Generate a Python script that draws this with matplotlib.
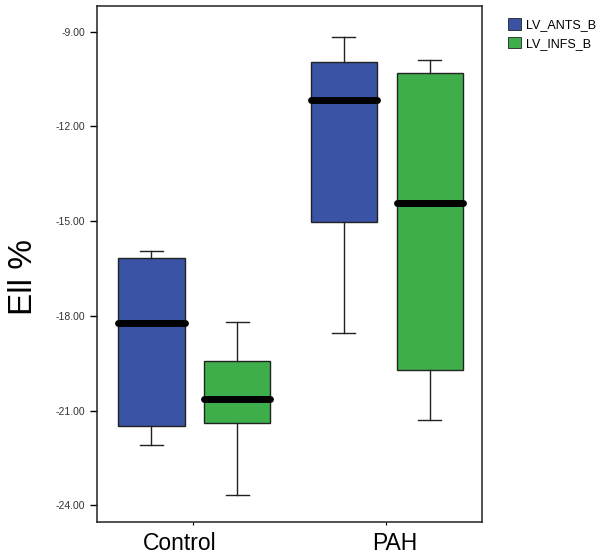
import matplotlib
matplotlib.use('Agg')
import matplotlib.pyplot as plt
from matplotlib.patches import Patch

plt.rcParams['font.family'] = ['Liberation Sans', 'DejaVu Sans']

# box stats (whisker low, Q1, median, Q3, whisker high)
groups = ['Control', 'PAH']
series = ['LV_ANTS_B', 'LV_INFS_B']
colors = ['#3A53A4', '#3DAE49']

ants_lo = [-22.09, -18.54]
ants_q1 = [-21.49, -15.02]
ants_med = [-18.23, -11.16]
ants_q3 = [-16.18, -9.97]
ants_hi = [-15.94, -9.18]

infs_lo = [-23.68, -21.28]
infs_q1 = [-21.38, -19.70]
infs_med = [-20.62, -14.42]
infs_q3 = [-19.44, -10.32]
infs_hi = [-18.20, -9.90]

yticks = [-9, -12, -15, -18, -21, -24]

fig = plt.figure(figsize=(6.0, 5.54), dpi=100)
ax = fig.add_axes([0.161, 0.058, 0.642, 0.931])

series_stats = [
    (ants_lo, ants_q1, ants_med, ants_q3, ants_hi),
    (infs_lo, infs_q1, infs_med, infs_q3, infs_hi),
]
offsets = [-0.216, 0.23]

for s, (lo, q1, med, q3, hi) in enumerate(series_stats):
    stats = []
    for g in range(len(groups)):
        stats.append({'whislo': lo[g], 'q1': q1[g], 'med': med[g],
                      'q3': q3[g], 'whishi': hi[g], 'fliers': []})
    pos = [g + 1 + offsets[s] for g in range(len(groups))]
    ax.bxp(stats, positions=pos, widths=0.345, patch_artist=True,
           showfliers=False, manage_ticks=False,
           boxprops=dict(facecolor=colors[s], edgecolor='#222222', linewidth=1.0),
           whiskerprops=dict(color='#222222', linewidth=1.0),
           capprops=dict(color='#222222', linewidth=1.0),
           capwidths=0.12,
           medianprops=dict(color='black', linewidth=5, solid_capstyle='round'))

ax.set_xlim(0.5, 2.5)
ax.set_ylim(-24.52, -8.19)
ax.set_xticks([1, 2])
ax.set_xticklabels([])
# group names sit a little off the tick marks in the original
label_shift = [-0.07, 0.05]
for g, name in enumerate(groups):
    ax.text(g + 1 + label_shift[g], -0.019, name, transform=ax.get_xaxis_transform(),
            ha='center', va='top', fontsize=16.5)
ax.set_yticks(yticks)
ax.set_yticklabels([f'{v:.2f}' for v in yticks], fontsize=7.5, color='#333333')
ax.tick_params(axis='y', length=5, width=1, pad=3)
ax.tick_params(axis='x', length=2, width=0.8)
ax.set_ylabel('Ell %', fontsize=24)
ax.yaxis.set_label_coords(-0.15, 0.475)
for sp in ax.spines.values():
    sp.set_linewidth(1.1)
    sp.set_color('#222222')

handles = [Patch(facecolor=c, edgecolor='#222222', linewidth=0.6) for c in colors]
fig.legend(handles, series, loc='upper left', bbox_to_anchor=(0.828, 0.987),
           frameon=False, fontsize=9, handlelength=1.0, handleheight=1.0,
           handletextpad=0.45, labelspacing=0.45)

plt.savefig('out.png', dpi=100)
plt.close()
